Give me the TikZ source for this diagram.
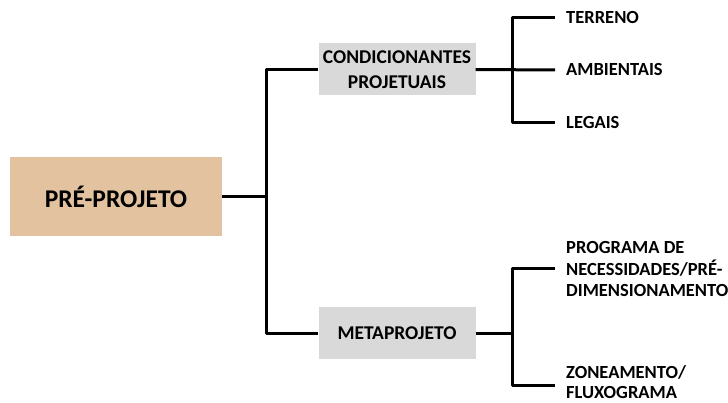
\documentclass[tikz,border=0pt]{standalone}
\usepackage{fontspec}
\setmainfont{Carlito}
\definecolor{tan}{HTML}{E3C29F}
\definecolor{boxgray}{HTML}{D9D9D9}
\begin{document}
\begin{tikzpicture}[x=1pt,y=-1pt,
  conn/.style={line width=3pt,line join=round},
  rootbox/.style={fill=tan,minimum width=212pt,minimum height=79pt,inner sep=0pt,font=\fontsize{25.5}{29}\selectfont\bfseries},
  midbox/.style={fill=boxgray,minimum width=157pt,minimum height=52pt,inner sep=0pt,align=center,font=\fontsize{19.5}{24.5}\selectfont\bfseries},
  leaf/.style={anchor=west,inner xsep=11pt,inner ysep=0pt,align=left,font=\fontsize{18.5}{21.5}\selectfont\bfseries}]
\useasboundingbox (0,0) rectangle (728,403);
\node[rootbox] (pre) at (116,196.5) {PRÉ-PROJETO};
\node[midbox] (cond) at (397,69.5) {CONDICIONANTES\\PROJETUAIS};
\node[midbox] (meta) at (397,333) {METAPROJETO};
\node[leaf] (terr) at (555,18) {TERRENO};
\node[leaf] (amb) at (555,70) {AMBIENTAIS};
\node[leaf] (leg) at (555,123) {LEGAIS};
\node[leaf] (prog) at (555,269) {PROGRAMA DE\\NECESSIDADES/PRÉ-\\DIMENSIONAMENTO};
\node[leaf,font=\fontsize{18.5}{20.5}\selectfont\bfseries] (zone) at (555,382) {ZONEAMENTO/\\FLUXOGRAMA};
\coordinate (j1) at (266,196.5);
\coordinate (j2) at (512,70);
\coordinate (j3) at (512,333);
\draw[conn] (pre.east) -- (j1);
\draw[conn] (cond.west) -| (j1) |- (meta.west);
\draw[conn] (cond.east) -- (amb.west);
\draw[conn] (terr.west) -| (j2) |- (leg.west);
\draw[conn] (meta.east) -- (j3);
\draw[conn] (prog.west) -| (j3) |- ([yshift=-3pt]zone.west);
\end{tikzpicture}
\end{document}
